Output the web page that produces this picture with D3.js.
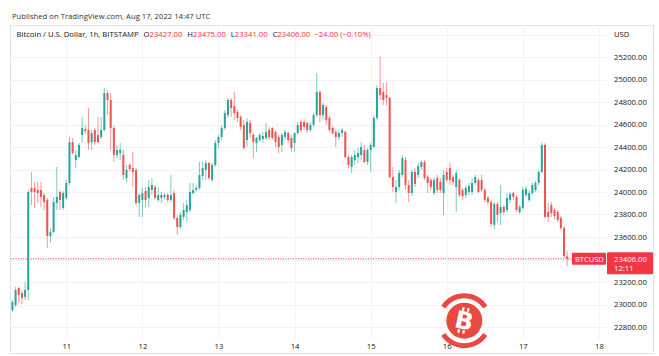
<!DOCTYPE html>
<html><head><meta charset="utf-8">
<script src="https://cdn.jsdelivr.net/npm/d3@7"></script>
<style>
body{margin:0;background:#fff;}
svg{display:block;font-family:"Open Sans","Noto Sans",sans-serif;}
</style>
</head><body>
<svg id="c" width="659" height="356"></svg>
<script>
// ---- data (BTCUSD, Bitstamp, 1h, Aug 10 07:00 UTC .. Aug 17 14:00 UTC) ----
const startUTC = Date.UTC(2022, 7, 10, 7);
const open = [22951,22996,23147,23102,23067,23129,24036,24036,24018,24018,23973,23929,23609,23644,23902,24000,23858,23947,24080,24444,
24284,24311,24507,24560,24551,24444,24551,24507,24489,24551,24880,24818,24569,24329,24347,24329,24124,24240,24213,24196,
23902,23929,24009,23947,24018,24044,23929,23947,23956,23973,23929,23991,23769,23689,23778,23822,23840,23991,24018,24036,
24142,24196,24258,24107,24240,24436,24489,24569,24684,24818,24764,24711,24667,24596,24462,24613,24507,24436,24462,24471,
24480,24551,24569,24533,24489,24418,24489,24524,24480,24436,24524,24622,24622,24613,24551,24596,24684,24889,24684,24755,
24658,24569,24533,24489,24524,24533,24311,24222,24284,24311,24329,24373,24267,24373,24400,24658,24924,24889,24862,24836,
24133,24000,24044,24151,24284,24062,23991,24178,24151,24222,24267,24133,24107,23991,24124,24089,23991,24178,24213,24133,
24044,24107,24018,23973,24000,24000,24080,24107,24107,24018,23947,23911,23707,23893,23813,23867,23840,23929,23991,23956,
23822,23858,23973,23929,23991,24018,24080,24178,24418,23822,23884,23840,23822,23769,23680,23427];
const high = [23040,23156,23156,23129,23200,24018,24178,24089,24089,24089,23991,23947,23680,23956,24222,24018,24009,24107,24489,24480,
24373,24436,24667,24596,24747,24551,24569,24667,24667,24924,24907,24880,24587,24418,24436,24373,24240,24258,24356,24213,
23991,24036,24044,24107,24124,24062,24044,24000,23991,23991,24151,24018,23796,23822,23902,23929,24080,24080,24062,24267,
24267,24284,24267,24258,24462,24507,24596,24729,24836,24836,24889,24729,24684,24640,24658,24640,24524,24489,24524,24533,
24613,24578,24578,24551,24507,24524,24551,24542,24507,24533,24622,24640,24649,24631,24622,24702,25058,24907,24791,24773,
24676,24587,24551,24551,24569,24551,24329,24329,24373,24391,24444,24418,24391,24436,24684,24951,25205,24969,24978,24844,
24222,24107,24196,24329,24311,24107,24196,24213,24258,24284,24284,24151,24124,24133,24151,24124,24196,24213,24258,24151,
24196,24124,24036,24062,24080,24124,24151,24124,24151,24036,23964,23929,23911,23911,24062,23884,23991,24000,24000,23973,
23884,24044,24053,24018,24080,24098,24196,24444,24436,23902,23911,23858,23840,23787,23698,23475];
const low = [22933,22978,23013,23004,23040,23040,23884,23858,23902,23867,23840,23502,23547,23636,23840,23840,23840,23929,24062,24329,
24213,24302,24436,24516,24373,24373,24418,24436,24471,24542,24684,24373,24267,24302,24284,24107,24089,24178,24044,23884,
23778,23778,23867,23867,23973,23929,23911,23902,23929,23911,23911,23751,23618,23671,23751,23733,23822,23973,24000,24018,
24107,24107,24107,24089,24222,24391,24462,24551,24658,24667,24640,24622,24551,24373,24400,24480,24302,24356,24444,24436,
24462,24462,24462,24400,24347,24356,24462,24436,24356,24356,24507,24524,24551,24524,24533,24578,24667,24622,24640,24596,
24533,24507,24400,24462,24489,24302,24213,24169,24240,24258,24284,24258,24240,24178,24391,24640,24818,24773,24773,24124,
23998,23902,24018,24133,24018,23911,23964,24044,24124,24196,24107,23991,24018,23973,23991,23991,23796,24089,24062,24062,
23822,23956,23929,23947,23973,23973,24062,23991,24000,23911,23884,23689,23671,23733,23707,23796,23822,23902,23929,23822,
23804,23840,23956,23911,23973,24000,24062,24169,23769,23733,23778,23760,23733,23662,23413,23341];
const close = [23022,23129,23084,23058,23129,24000,24000,24000,23991,23956,23911,23609,23644,23911,23956,23929,23991,24080,24444,24347,
24329,24418,24569,24542,24436,24524,24444,24444,24551,24880,24818,24569,24329,24373,24373,24151,24196,24204,24178,23902,
23973,23991,23929,24044,24062,23947,23973,23973,23973,23929,23973,23769,23689,23796,23840,23884,24000,24018,24036,24151,
24213,24258,24124,24240,24436,24489,24569,24702,24818,24747,24702,24658,24578,24391,24622,24524,24444,24480,24507,24498,
24533,24489,24480,24444,24400,24507,24533,24462,24391,24524,24596,24551,24578,24551,24596,24684,24889,24684,24773,24640,
24551,24524,24489,24524,24551,24311,24240,24311,24329,24347,24400,24267,24373,24418,24658,24924,24862,24818,24836,24133,
24044,24044,24169,24302,24062,23991,24178,24071,24231,24267,24124,24080,24044,24107,24018,24018,24151,24107,24107,24089,
24169,23973,23964,24036,24053,24080,24133,24000,24018,23929,23911,23716,23893,23796,23867,23822,23947,23982,23956,23840,
23867,24018,24027,23991,24062,24080,24178,24418,23778,23778,23813,23787,23751,23680,23431,23406];
const priceTicks = [22800,23000,23200,23400,23600,23800,24000,24200,24400,24600,24800,25000,25200,25400];
const priceLabels = [22800,23000,23200,23600,23800,24000,24200,24400,24600,24800,25000,25200];
const dayTicks = [11,12,13,14,15,16,17,18];
const lastPrice = 23406;
const legend = {o:"23427.00", h:"23475.00", l:"23341.00", c:"23406.00", chg:"\u221224.00 (\u22120.10%)"};

// ---- layout ----
const RED = "#f23645", CRED = "#ef5350", CGREEN = "#26a69a", TXT = "#131722";
const plotL = 10.5, plotR = 607, plotT = 25, plotB = 339;
const svg = d3.select("#c");
const times = close.map((_, i) => new Date(startUTC + i * 3600e3));
const x = d3.scaleUtc().domain([times[0], times[times.length - 1]]).range([12.4, 567.2]);
const y = d3.scaleLinear().domain([22800, 25200]).range([327, 57]);
const dayDates = dayTicks.map(d => new Date(Date.UTC(2022, 7, d)));

// frame
svg.append("rect").attr("x", 10.5).attr("y", 25.5).attr("width", 643).attr("height", 328)
  .attr("fill", "none").attr("stroke", "#e0e3eb").attr("stroke-width", 1);

// grid
svg.append("g").selectAll("line").data(priceTicks).join("line")
  .attr("x1", plotL).attr("x2", plotR)
  .attr("y1", d => Math.round(y(d)) + 0.5).attr("y2", d => Math.round(y(d)) + 0.5)
  .attr("stroke", "#f0f3fa");
svg.append("g").selectAll("line").data(dayDates).join("line")
  .attr("y1", plotT).attr("y2", plotB)
  .attr("x1", d => Math.round(x(d)) + 0.5).attr("x2", d => Math.round(x(d)) + 0.5)
  .attr("stroke", "#f0f3fa");

// candles
const idx = d3.range(close.length);
const cg = svg.append("g");
cg.selectAll("line").data(idx).join("line")
  .attr("x1", i => x(times[i])).attr("x2", i => x(times[i]))
  .attr("y1", i => y(high[i])).attr("y2", i => y(low[i]))
  .attr("stroke", i => close[i] >= open[i] ? CGREEN : CRED)
  .attr("stroke-opacity", 0.6).attr("stroke-width", 1);
cg.selectAll("rect").data(idx).join("rect")
  .attr("x", i => x(times[i]) - 1).attr("width", 2)
  .attr("y", i => y(Math.max(open[i], close[i])))
  .attr("height", i => Math.max(1, Math.abs(y(open[i]) - y(close[i]))))
  .attr("fill", i => close[i] >= open[i] ? CGREEN : CRED);

// last price line
svg.append("line").attr("x1", plotL).attr("x2", plotR)
  .attr("y1", y(lastPrice)).attr("y2", y(lastPrice))
  .attr("stroke", RED).attr("stroke-width", 1).attr("stroke-dasharray", "1,1.5");

// watermark logo
const wm = svg.append("g").attr("transform", "translate(464.3,320.7)");
const WRED = "#e94a3f";
const arc = d3.arc().innerRadius(22.5).outerRadius(27.5);
wm.append("path").attr("d", arc({startAngle: -57 * Math.PI / 180, endAngle: 57 * Math.PI / 180})).attr("fill", WRED);
wm.append("path").attr("d", arc({startAngle: 123 * Math.PI / 180, endAngle: 237 * Math.PI / 180})).attr("fill", WRED);
wm.append("circle").attr("r", 18).attr("fill", WRED);
const bg = wm.append("g").attr("transform", "rotate(12)");
bg.append("text").attr("text-anchor", "middle").attr("y", 8.5)
  .attr("font-family", "DejaVu Sans").attr("font-weight", "bold").attr("font-size", 24)
  .attr("fill", "#fff").text("B");
[[-4.5, -13], [0.5, -13], [-4.5, 9.5], [0.5, 9.5]].forEach(([bx, by]) =>
  bg.append("rect").attr("x", bx).attr("y", by).attr("width", 2.2).attr("height", 3.5).attr("fill", "#fff"));

// price axis
const ay = svg.append("g").attr("transform", "translate(614,0)")
  .call(d3.axisRight(y).tickValues(priceLabels).tickFormat(d3.format(".2f")).tickSize(0).tickPadding(0));
ay.select(".domain").remove();
ay.selectAll("text").attr("font-size", 7.7).attr("fill", TXT).attr("font-family", "Open Sans");
svg.append("text").attr("x", 614).attr("y", y(25400) + 2.6).attr("font-size", 7.7).attr("fill", TXT).text("USD");

// time axis
const ax = svg.append("g").attr("transform", "translate(0,344)")
  .call(d3.axisBottom(x).tickValues(dayDates).tickFormat(d3.utcFormat("%-d")).tickSize(0).tickPadding(0));
ax.select(".domain").remove();
ax.selectAll("text").attr("font-size", 7.7).attr("fill", TXT).attr("font-family", "Open Sans");

// last price labels
svg.append("rect").attr("x", 572).attr("y", y(lastPrice) - 6).attr("width", 34).attr("height", 12).attr("fill", RED).attr("rx", 1);
svg.append("text").attr("x", 575).attr("y", y(lastPrice) + 2.7).attr("font-size", 7.5).attr("fill", "#fff").text("BTCUSD");
svg.append("rect").attr("x", 607).attr("y", y(lastPrice) - 6.5).attr("width", 46).attr("height", 22).attr("fill", RED).attr("rx", 1);
svg.append("text").attr("x", 614).attr("y", y(lastPrice) + 2.7).attr("font-size", 7.7).attr("fill", "#fff").text(d3.format(".2f")(lastPrice));
svg.append("text").attr("x", 614).attr("y", y(lastPrice) + 12).attr("font-size", 7.7).attr("fill", "#fff").text("12:11");

// header
svg.append("text").attr("x", 12).attr("y", 18.5).attr("font-size", 7.7).attr("fill", "#333").text("Published on TradingView.com, Aug 17, 2022 14:47 UTC");
const lg = svg.append("text").attr("x", 16.5).attr("y", 37).attr("font-size", 7.7).attr("fill", TXT);
lg.append("tspan").text("Bitcoin / U.S. Dollar, 1h, BITSTAMP");
[["O", legend.o], ["H", legend.h], ["L", legend.l], ["C", legend.c]].forEach(([k, v]) => {
  lg.append("tspan").attr("dx", 5).attr("fill", TXT).text(k);
  lg.append("tspan").attr("fill", RED).text(v);
});
lg.append("tspan").attr("dx", 4).attr("fill", RED).text(legend.chg);
</script>
</body></html>
